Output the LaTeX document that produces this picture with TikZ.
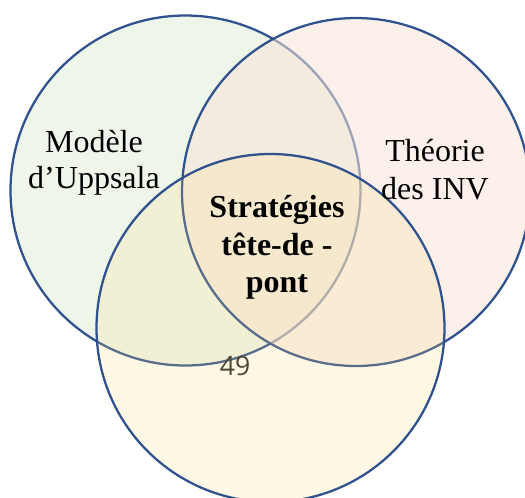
\documentclass[tikz,border=0pt]{standalone}
\usepackage{amsmath}
\usepackage{fontspec}
\setmainfont{Liberation Serif}
\newfontfamily\chiffre{Open Sans}
\usepackage{tikz}

\definecolor{bordBleu}{HTML}{2F528F}
\definecolor{vertPale}{HTML}{EEF6EA}
\definecolor{rosePale}{HTML}{F8E3D8}
\definecolor{jaunePale}{HTML}{FFDC7D}
\definecolor{texteOlive}{HTML}{4B4734}

\begin{document}
\begin{tikzpicture}[x=0.75pt,y=0.75pt,yscale=-1,xscale=1]
\useasboundingbox (0,0) rectangle (525,497);

%Shape: Circle [id:uppsala]
\draw [color=bordBleu, fill=vertPale, line width=1.7] (185.5,190.5) circle [radius=175] ;
%Shape: Circle [id:inv]
\draw [color=bordBleu, fill=rosePale, fill opacity=0.55, line width=1.7] (356,192) circle [radius=174] ;
%Shape: Circle [id:tetedepont]
\draw [color=bordBleu, fill=jaunePale, fill opacity=0.2, line width=1.7] (270.5,328) circle [radius=174] ;

% Text Node
\node (modele) at (94,162.5) [align=center, inner sep=0.75pt, font=\fontsize{24}{27}\selectfont] {Modèle\\d’Uppsala};
% Text Node
\node (theorie) at (435,170) [align=center, inner sep=0.75pt, font=\fontsize{24}{28.5}\selectfont] {Théorie\\des INV};
% Text Node
\node (strategies) at (277,247.5) [align=center, inner sep=0.75pt, font=\fontsize{24}{28}\selectfont\bfseries] {Stratégies\\tête-de -\\pont};
% Text Node
\node (page) at (235,375) [anchor=base, inner sep=0.75pt, text=texteOlive, font=\fontsize{20}{22}\selectfont\chiffre] {49};

\end{tikzpicture}
\end{document}
